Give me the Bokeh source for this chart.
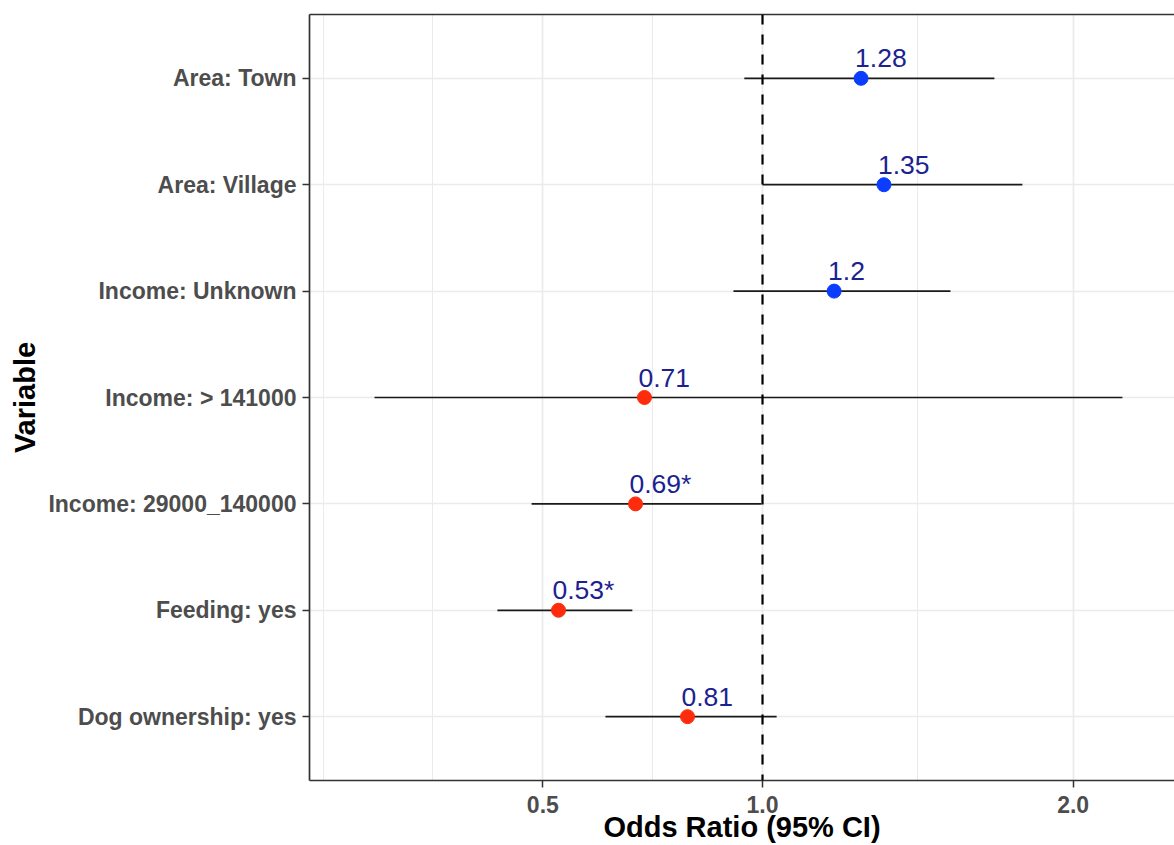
import numpy as np
from bokeh.plotting import figure
from bokeh.models import Range1d, FixedTicker, Span, LinearAxis, ColumnDataSource
from bokeh.core.properties import value
from bokeh.embed import file_html
from bokeh.resources import INLINE

# ---- data ----
variables = ["Area: Town", "Area: Village", "Income: Unknown", "Income: > 141000",
             "Income: 29000_140000", "Feeding: yes", "Dog ownership: yes"]
odds_ratio = [1.28, 1.35, 1.2, 0.71, 0.69, 0.53, 0.81]
ci_low = [0.952, 1.00, 0.924, 0.233, 0.479, 0.418, 0.625]
ci_high = [1.714, 1.813, 1.564, 2.19, 0.997, 0.683, 1.038]
or_labels = ["1.28", "1.35", "1.2", "0.71", "0.69*", "0.53*", "0.81"]
x_tick_values = [0.5, 1.0, 2.0]
x_tick_labels = ["0.5", "1.0", "2.0"]

FONT = "Liberation Sans"
BLUE = "#0B3DFF"
RED = "#FF2B0D"
TEXT_BLUE = "#1A2290"
GRID = "#EBEBEB"
DARK = "#333333"

# square-root x scale (like scale_x_sqrt)
sq = np.sqrt
n = len(variables)
ypos = [n - i for i in range(n)]

src = ColumnDataSource(dict(
    y=ypos,
    x=sq(odds_ratio),
    lo=sq(ci_low),
    hi=sq(ci_high),
    lab=or_labels,
    col=[BLUE if v > 1 else RED for v in odds_ratio],
))

p = figure(width=1174, height=845, output_backend="svg", toolbar_location=None,
           x_range=Range1d(0.396, 1.5493), y_range=Range1d(0.4, n + 0.6),
           min_border_left=309, min_border_right=0, min_border_top=14, min_border_bottom=0)
p.outline_line_color = None
p.background_fill_color = "white"

# ticks / grid
tb = sq(x_tick_values)
b_ext = np.concatenate([[tb[0] - (tb[1] - tb[0])], tb, [tb[-1] + (tb[-1] - tb[-2])]])
minor = [b_ext[0]] + [(b_ext[i] + b_ext[i + 1]) / 2 for i in range(len(b_ext) - 1)]
xticker = FixedTicker(ticks=list(tb), minor_ticks=[m for m in minor])
yticker = FixedTicker(ticks=ypos)

p.xaxis.ticker = xticker
p.xaxis.major_label_overrides = {float(t): l for t, l in zip(tb, x_tick_labels)}
p.yaxis.ticker = yticker
p.yaxis.major_label_overrides = {y: v for y, v in zip(ypos, variables)}
p.xgrid.ticker = xticker
p.ygrid.ticker = yticker

p.xgrid.grid_line_color = GRID
p.xgrid.grid_line_width = 1.7
p.xgrid.minor_grid_line_color = GRID
p.xgrid.minor_grid_line_width = 1.0
p.ygrid.grid_line_color = GRID
p.ygrid.grid_line_width = 1.7

for ax in (p.xaxis[0], p.yaxis[0]):
    ax.axis_line_color = DARK
    ax.axis_line_width = 1.7
    ax.major_tick_line_color = DARK
    ax.major_tick_line_width = 1.5
    ax.major_tick_out = 7
    ax.major_tick_in = 0
    ax.minor_tick_out = 0
    ax.minor_tick_in = 0
    ax.major_label_text_font = FONT
    ax.major_label_text_font_style = "bold"
    ax.major_label_text_font_size = "23px"
    ax.major_label_text_color = "#4D4D4D"
    ax.axis_label_text_font = FONT
    ax.axis_label_text_font_style = "bold"
    ax.axis_label_text_font_size = "29px"
    ax.axis_label_text_color = "black"

p.xaxis.axis_label = "Odds Ratio (95% CI)"
p.xaxis.major_label_standoff = 8
p.xaxis.axis_label_standoff = -5
p.yaxis.axis_label = "Variable"
p.yaxis.major_label_standoff = 6
p.yaxis.axis_label_standoff = 4

# top border via an empty axis
top = LinearAxis(ticker=FixedTicker(ticks=[]), axis_line_color=DARK, axis_line_width=1.7,
                 major_tick_out=0, major_tick_in=0, minor_tick_out=0, minor_tick_in=0,
                 major_label_standoff=0, major_label_text_font_size="0px")
p.add_layout(top, "above")

# reference line at OR = 1
p.add_layout(Span(location=sq(1.0), dimension="height", line_color="black",
                  line_width=2.2, line_dash="10 10"))

# CIs, points, labels
p.segment(x0="lo", y0="y", x1="hi", y1="y", source=src, line_color="#1a1a1a", line_width=1.7)
p.scatter(x="x", y="y", source=src, size=14, fill_color="col", line_color="col")
p.text(x="x", y="y", text="lab", source=src, x_offset=-6, y_offset=-20,
       text_font=value(FONT), text_font_size="26.5px", text_color=TEXT_BLUE,
       text_align="left", text_baseline="alphabetic")

open("out.html", "w").write(file_html(p, INLINE))
